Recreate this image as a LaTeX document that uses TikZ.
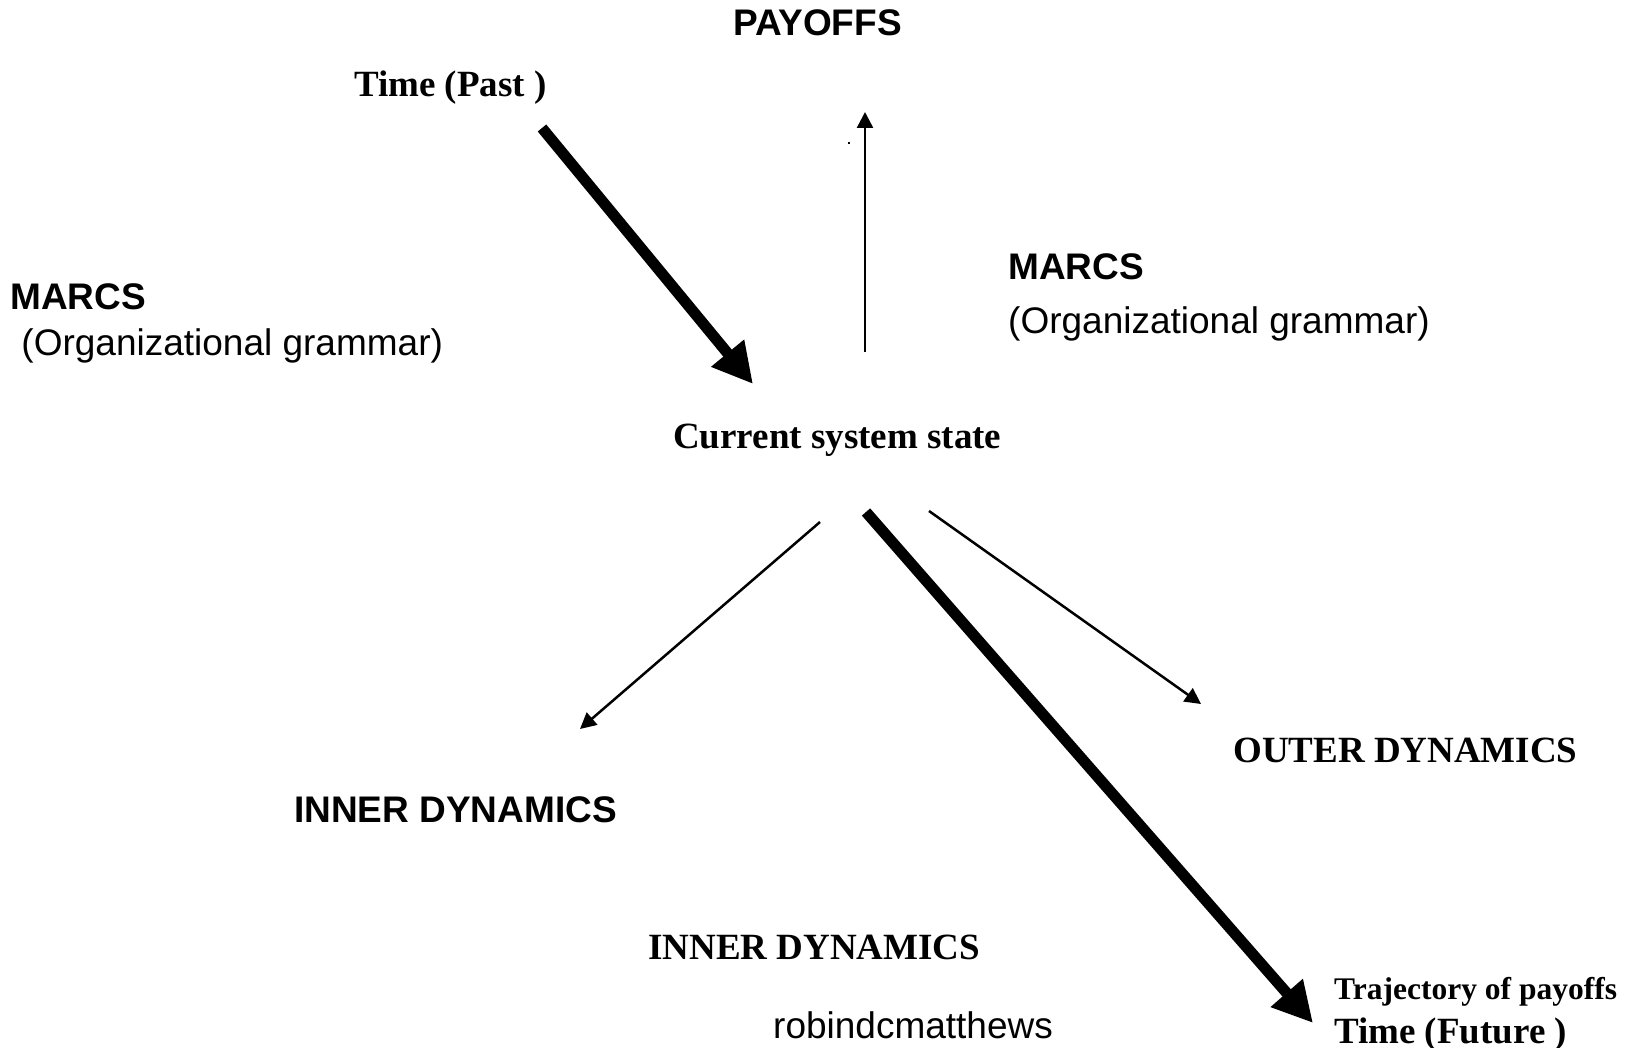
\documentclass[tikz,border=0pt]{standalone}
\usepackage{fontspec}
\setmainfont{Liberation Serif}
\setsansfont{Liberation Sans}
\usetikzlibrary{arrows.meta}
\begin{document}
\begin{tikzpicture}[x=1pt,y=-1pt,
  sanslbl/.style={inner sep=0pt,anchor=base west,font=\sffamily\fontsize{37}{42}\selectfont},
  sansbold/.style={sanslbl,font=\sffamily\bfseries\fontsize{37}{42}\selectfont},
  seriflbl/.style={inner sep=0pt,anchor=base west,font=\rmfamily\bfseries\fontsize{37}{42}\selectfont},
  thickarrow/.style={line width=11pt,-{Triangle[length=40pt,width=40pt]}},
  thinarrow/.style={line width=2.5pt,-{Triangle[length=16pt,width=16pt]}}]
\useasboundingbox (0,0) rectangle (1633,1048);
\fill[white] (0,0) rectangle (1633,1048);

% labels
\node[sansbold] (payoffs) at (733,36) {PAYOFFS};
\node[seriflbl] (past) at (354,97) {Time (Past )};
\node[sansbold] (marcsL) at (10,310) {MARCS};
\node[sanslbl] (grammarL) at (11,356) {\ (Organizational grammar)};
\node[sansbold] (marcsR) at (1008,280) {MARCS};
\node[sanslbl] (grammarR) at (1008,334) {(Organizational grammar)};
\node[seriflbl] (state) at (673,448) {Current system state};
\node[seriflbl] (outer) at (1233,762) {OUTER DYNAMICS};
\node[sansbold] (innerA) at (294,822) {INNER DYNAMICS};
\node[seriflbl] (innerB) at (648,959) {INNER DYNAMICS};
\node[sanslbl] (author) at (773,1038) {robindcmatthews};
\node[inner sep=0pt,anchor=base west,font=\rmfamily\bfseries\fontsize{31.5}{36}\selectfont] (traj) at (1334,999) {Trajectory of payoffs};
\node[seriflbl] (future) at (1334,1043) {Time (Future )};

% connector end points
\coordinate (pastA) at (542,128);
\coordinate (pastB) at (753,384);
\coordinate (upA) at (865,352);
\coordinate (upB) at (865,112);
\coordinate (innerS) at (820,522);
\coordinate (innerT) at (580,729);
\coordinate (futA) at (866,512);
\coordinate (futB) at (1313,1023);
\coordinate (outS) at (929,511);
\coordinate (outT) at (1201,704);

% arrows
\draw[thickarrow] (pastA) -- (pastB);
\draw[thinarrow] (upA) -- (upB);
\draw[thinarrow] (innerS) -- (innerT);
\draw[thickarrow] (futA) -- (futB);
\draw[thinarrow] (outS) -- (outT);

% stray mark
\fill (848,142) rectangle (850,144);
\end{tikzpicture}
\end{document}
